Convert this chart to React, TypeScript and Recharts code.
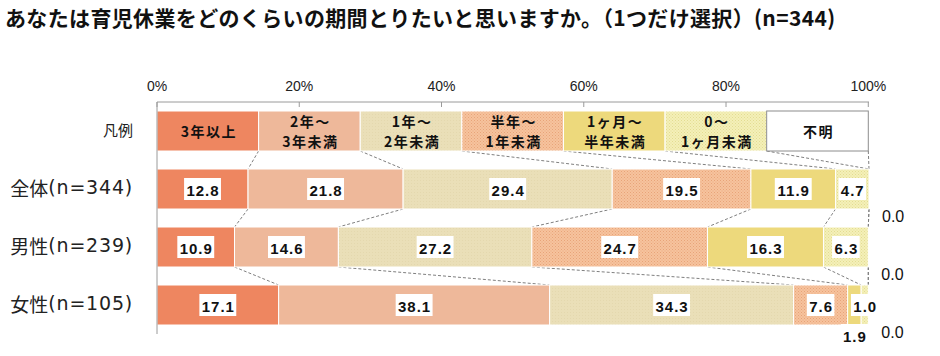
import React from 'react';
import { BarChart, Bar, XAxis, YAxis, LabelList } from 'recharts';

const W = 940;
const H = 356;
const PLOT_TOP = 102;
const PLOT_BOTTOM = 334;

const categories = ['凡例', '全体(n=344)', '男性(n=239)', '女性(n=105)'];
const seriesNames = ['3年以上', '2年～3年未満', '1年～2年未満', '半年～1年未満', '1ヶ月～半年未満', '0～1ヶ月未満', '不明'];
const legendLines = [['3年以上'], ['2年～', '3年未満'], ['1年～', '2年未満'], ['半年～', '1年未満'], ['1ヶ月～', '半年未満'], ['0～', '1ヶ月未満'], ['不明']];

// values for 全体 / 男性 / 女性
const over3Years = [12.8, 10.9, 17.1];
const years2to3 = [21.8, 14.6, 38.1];
const years1to2 = [29.4, 27.2, 34.3];
const halfTo1Year = [19.5, 24.7, 7.6];
const month1ToHalf = [11.9, 16.3, 1.9];
const month0to1 = [4.7, 6.3, 1.0];
const unknown = [0.0, 0.0, 0.0];

const xTicks = [0, 20, 40, 60, 80, 100];

const seriesValues = [over3Years, years2to3, years1to2, halfTo1Year, month1ToHalf, month0to1, unknown];
const FILLS = ['#EE8660', '#EEB89A', 'url(#pBeige)', 'url(#pOrange)', '#EDD97C', 'url(#pYellow)', '#FFFFFF'];

// legend row: every item gets the same share of the bar
const LEGEND_SHARE = 100 / seriesNames.length;

const data = categories.map((name, r) => {
  const row: Record<string, any> = { name };
  seriesValues.forEach((vals, s) => {
    row[`s${s}`] = r === 0 ? LEGEND_SHARE : vals[r - 1];
  });
  return row;
});

const cumulative = data.map(row => {
  let acc = 0;
  return seriesValues.map((_, s) => (acc += row[`s${s}`]));
});

const ROW_STEP = (PLOT_BOTTOM - PLOT_TOP) / categories.length;
const GRAY = '#9A9A9A';

const makeShape = (s: number) => (p: any) => {
  const { x, y, width, height, index } = p;
  const legendUnknown = index === 0 && s === seriesNames.length - 1;
  const els: React.ReactNode[] = [];
  if (width > 0) {
    els.push(
      <rect key="r" x={x} y={y} width={width} height={height}
        fill={FILLS[s]}
        stroke={legendUnknown ? '#8C8C8C' : '#fff'} strokeWidth={1} />
    );
  }
  // series lines to the next row, drawn once per row from the first segment
  if (s === 0 && index < categories.length - 1) {
    const k = width / data[index].s0;
    cumulative[index].forEach((c, j) => {
      els.push(
        <line key={`c${j}`} x1={x + c * k} y1={y + height} x2={x + cumulative[index + 1][j] * k} y2={y + ROW_STEP}
          stroke="#7F7F7F" strokeWidth={1} strokeDasharray="3 2" />
      );
    });
  }
  return <g>{els}</g>;
};

const textW = (t: string) => t.split('').reduce((a, ch) => a + (ch === '.' ? 5 : 9.3), 0);

const makeLabel = (s: number) => (p: any) => {
  const { x, y, width, height, value, index } = p;
  const cx = x + width / 2;
  const cy = y + height / 2;
  if (index === 0) {
    const lines = legendLines[s];
    return (
      <g>
        {lines.map((ln, i) => (
          <text key={i} x={cx + 1} y={cy + (i - (lines.length - 1) / 2) * 20} textAnchor="middle" dominantBaseline="central"
            fontFamily="'Noto Sans CJK JP', sans-serif" fontWeight={700} fontSize={14} letterSpacing={1.5} fill="#111">
            {ln}
          </text>
        ))}
      </g>
    );
  }
  const v = Number(value);
  const txt = v.toFixed(1);
  if (s === seriesNames.length - 1) {
    return (
      <text x={x + width + 13} y={y + height + 7} dominantBaseline="central"
        fontFamily="'Liberation Sans', Arial, sans-serif" fontSize={16} fill="#111">
        {txt}
      </text>
    );
  }
  const nextVal = data[index][`s${s + 1}`];
  const below = v < 3 && nextVal > 0 && nextVal < 3;
  const ly = below ? y + height + 10 : cy;
  const bw = textW(txt) + 4;
  return (
    <g>
      <rect x={cx - bw / 2} y={ly - 11} width={bw} height={22} fill="#fff" />
      <text x={cx + 0.5} y={ly + 1} textAnchor="middle" dominantBaseline="central"
        fontFamily="'Liberation Sans', Arial, sans-serif" fontWeight={700} fontSize={15} letterSpacing={1} fill="#111">
        {txt}
      </text>
    </g>
  );
};

const XTick = (p: any) => {
  const { x, y, payload } = p;
  return (
    <g>
      <line x1={x} y1={y} x2={x} y2={y + 5} stroke={GRAY} />
      <text x={x} y={y - 16} textAnchor="middle" dominantBaseline="central"
        fontFamily="'Liberation Sans', Arial, sans-serif" fontSize={14} fill="#222">
        {`${payload.value}%`}
      </text>
    </g>
  );
};

const YTick = (p: any) => {
  const { x, y, payload } = p;
  const label: string = payload.value;
  const legend = label === categories[0];
  const cut = label.indexOf('(');
  return (
    <text x={x - 24} y={y - 2} textAnchor="end" dominantBaseline="central"
      fontFamily="'Noto Sans CJK JP', sans-serif" fontSize={legend ? 15 : 19} fill="#222">
      {cut < 0 ? label : (
        <>
          <tspan>{label.slice(0, cut)}</tspan>
          <tspan fontFamily="'DejaVu Sans', sans-serif" letterSpacing={0.8}>{label.slice(cut)}</tspan>
        </>
      )}
    </text>
  );
};

export default function App() {
  return (
    <div style={{ position: 'absolute', left: 0, top: 0, width: W, height: H, background: '#fff' }}>
      <div style={{
        position: 'absolute', left: 5, top: 2, whiteSpace: 'nowrap', letterSpacing: 0.35,
        fontFamily: "'Noto Sans CJK JP', sans-serif", fontWeight: 700, fontSize: 21, color: '#111',
      }}>
        あなたは育児休業をどのくらいの期間とりたいと思いますか。（1つだけ選択）(n=344)
      </div>
      <div style={{ position: 'absolute', left: 0, top: 0 }}>
        <BarChart width={W} height={H} data={data} layout="vertical" barSize={40}
          margin={{ top: PLOT_TOP - 30, right: 71, bottom: H - PLOT_BOTTOM, left: 0 }}>
          <defs>
            <pattern id="pOrange" width="3" height="3" patternUnits="userSpaceOnUse">
              <rect width="3" height="3" fill="#F6C39D" />
              <rect width="1" height="1" fill="#E8A379" />
              <rect x="1.5" y="1.5" width="1" height="1" fill="#EBAA80" />
            </pattern>
            <pattern id="pYellow" width="3" height="3" patternUnits="userSpaceOnUse">
              <rect width="3" height="3" fill="#F4F0B8" />
              <rect width="1" height="1" fill="#E3DC92" />
              <rect x="1.5" y="1.5" width="1" height="1" fill="#E6DF99" />
            </pattern>
            <pattern id="pBeige" width="3" height="3" patternUnits="userSpaceOnUse">
              <rect width="3" height="3" fill="#EADFB8" />
              <rect width="1" height="1" fill="#E4D8AE" />
            </pattern>
          </defs>
          <XAxis type="number" orientation="top" domain={[0, 100]} ticks={xTicks} height={30}
            tickSize={0} tickMargin={0} tickLine={false} axisLine={{ stroke: GRAY }} tick={<XTick />} />
          <XAxis xAxisId="frame" type="number" orientation="bottom" domain={[0, 100]} height={0}
            tick={false} tickLine={false} axisLine={{ stroke: GRAY }} />
          <YAxis type="category" dataKey="name" width={157} tickSize={0} tickMargin={0} tickLine={false}
            axisLine={{ stroke: GRAY }} tick={<YTick />} />
          <YAxis yAxisId="frame" orientation="right" type="category" dataKey="name" width={0}
            tick={false} tickLine={false} axisLine={{ stroke: GRAY }} />
          {seriesNames.map((name, s) => (
            <Bar key={name} name={name} dataKey={`s${s}`} stackId="a" fill={FILLS[s]}
              isAnimationActive={false} shape={makeShape(s)}>
              <LabelList dataKey={`s${s}`} content={makeLabel(s)} />
            </Bar>
          ))}
        </BarChart>
      </div>
    </div>
  );
}
